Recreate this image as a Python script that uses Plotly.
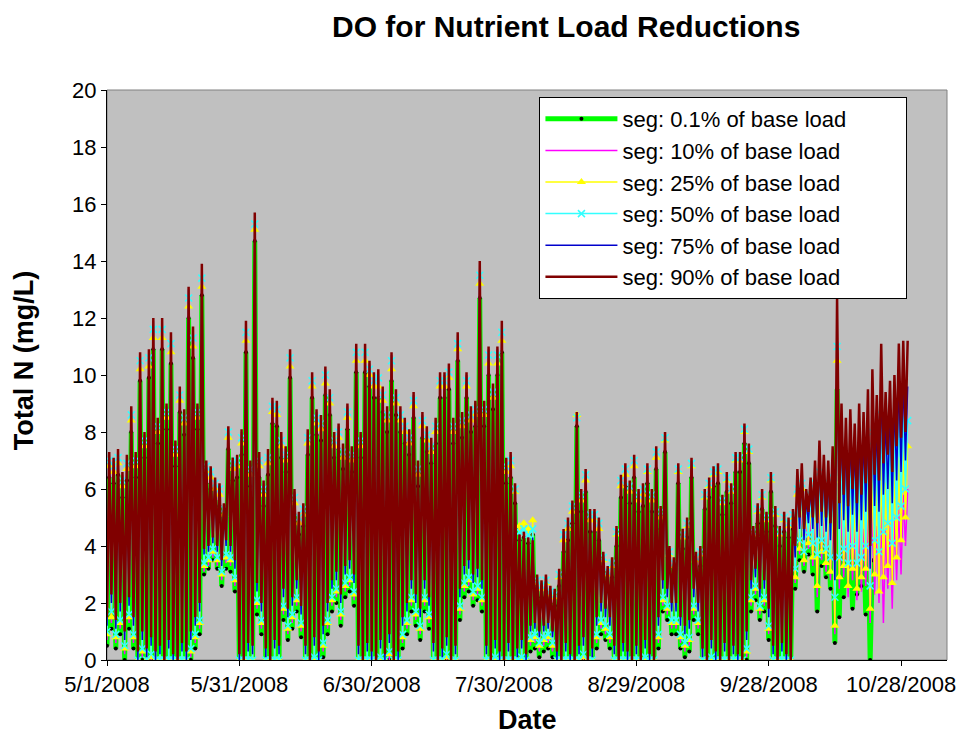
import plotly.graph_objects as go
from datetime import datetime, timedelta

# ---- data (daily trough / peak readings, day 0 = 5/1/2008) ----
x_tick_labels = ["5/1/2008", "5/31/2008", "6/30/2008", "7/30/2008", "8/29/2008", "9/28/2008", "10/28/2008"]
y_ticks = [0, 2, 4, 6, 8, 10, 12, 14, 16, 18, 20]

series_names = ["seg: 0.1% of base load", "seg: 10% of base load", "seg: 25% of base load",
                "seg: 50% of base load", "seg: 75% of base load", "seg: 90% of base load"]

peak_90 = [7.3, 7.1, 7.4, 6.6, 7.2, 8.9, 7.3, 10.8, 8.0, 10.9,
           12.0, 8.5, 12.0, 9.0, 11.5, 7.7, 9.6, 8.8, 13.1, 11.7,
           9.0, 13.9, 7.0, 6.8, 6.4, 6.2, 5.5, 8.2, 7.1, 7.2,
           8.1, 11.9, 7.0, 15.7, 7.3, 6.3, 7.4, 9.2, 9.1, 8.0,
           7.5, 10.9, 6.0, 5.2, 5.5, 8.1, 10.1, 8.8, 8.6, 10.3,
           9.5, 8.0, 8.3, 7.6, 9.0, 7.5, 11.1, 8.0, 11.1, 10.5,
           10.1, 10.2, 9.6, 8.9, 10.8, 9.5, 8.9, 8.5, 8.1, 9.4,
           7.0, 8.7, 8.2, 7.8, 8.5, 10.1, 10.1, 10.4, 8.5, 11.5,
           8.7, 10.1, 8.9, 9.1, 14.0, 9.1, 11.0, 9.7, 11.0, 11.9,
           7.1, 7.3, 6.2, 4.4, 4.5, 4.3, 4.2, 3.0, 2.8, 3.0,
           2.6, 2.5, 3.2, 4.6, 5.0, 5.6, 8.7, 6.0, 6.7, 5.3,
           5.3, 5.0, 3.8, 3.3, 3.6, 4.7, 6.5, 6.9, 6.3, 7.2,
           6.0, 6.2, 6.9, 6.0, 7.5, 5.4, 8.0, 4.0, 3.6, 6.9,
           4.6, 5.0, 7.1, 3.8, 4.0, 6.0, 6.4, 6.8, 6.9, 5.8,
           6.6, 6.2, 7.3, 7.3, 8.3, 7.6, 4.7, 5.5, 6.0, 5.2,
           6.6, 5.4, 4.7, 5.2, 5.0, 5.3, 6.7, 6.9, 6.0, 6.4,
           7.0, 7.7, 7.2, 7.0, 7.5, 12.7, 9.0, 8.5, 8.8, 8.3,
           9.0, 8.7, 9.5, 10.2, 9.3, 11.1, 9.4, 9.8, 10.0, 11.1,
           11.2, 11.2]
trough_90 = [1.5, 2.3, 1.4, 2.0, 1.0, 2.2, 1.5, 0.3, 1.0, 0.4,
             0.8, 0.3, 0.5, 0.0, 0.7, 0.2, 0.0, 0.6, 0.3, 1.0,
             1.5, 2.0, 3.9, 4.0, 4.3, 4.0, 3.5, 4.2, 4.0, 3.5,
             0.2, 0.0, 0.6, 0.5, 2.7, 2.0, 0.4, 0.0, 0.7, 0.5,
             2.5, 1.8, 2.2, 2.8, 1.9, 0.5, 0.0, 0.8, 0.3, 1.2,
             2.0, 2.8, 3.1, 2.3, 3.3, 3.5, 3.0, 0.5, 0.0, 0.6,
             0.3, 0.0, 0.7, 0.2, 0.9, 0.0, 0.3, 1.5, 2.0, 2.8,
             2.3, 1.8, 2.8, 2.2, 0.6, 0.0, 0.4, 0.8, 0.0, 0.5,
             2.5, 3.3, 3.5, 3.0, 3.2, 2.8, 0.5, 0.0, 0.7, 0.3,
             0.0, 0.6, 0.0, 0.4, 0.7, 0.2, 1.2, 1.3, 1.0, 1.2,
             1.3, 1.0, 0.3, 0.0, 0.6, 0.2, 0.0, 0.5, 0.8, 0.0,
             0.4, 1.5, 2.0, 1.8, 1.5, 0.5, 0.0, 0.6, 0.3, 0.0,
             0.5, 0.0, 0.7, 0.2, 0.0, 1.5, 2.8, 2.5, 2.0, 2.0,
             1.5, 1.2, 1.4, 2.5, 2.0, 0.4, 0.0, 0.7, 0.3, 0.0,
             0.6, 0.0, 0.5, 0.2, 0.0, 1.0, 2.8, 3.2, 2.5, 2.8,
             1.8, 0.5, 0.0, 0.6, 0.2, 0.0, 4.0, 5.0, 4.6, 5.2,
             5.0, 4.8, 5.2, 5.0, 4.8, 3.5, 5.5, 5.8, 5.4, 6.0,
             5.5, 5.8, 6.2, 4.0, 6.5, 6.3, 6.9, 7.2, 6.6, 7.5,
             7.8, 8.0]

peak_75 = [7.2, 7.0, 7.3, 6.5, 7.1, 8.8, 7.2, 10.7, 7.9, 10.8,
           11.9, 8.4, 11.9, 8.9, 11.4, 7.6, 9.5, 8.7, 13.0, 11.6,
           8.9, 13.8, 6.9, 6.7, 6.3, 6.1, 5.4, 8.1, 7.0, 7.1,
           8.0, 11.8, 6.9, 15.6, 7.2, 6.2, 7.3, 9.1, 9.0, 7.9,
           7.4, 10.8, 5.9, 5.1, 5.4, 8.0, 10.0, 8.7, 8.5, 10.2,
           9.4, 7.9, 8.2, 7.5, 8.9, 7.4, 11.0, 7.9, 11.0, 10.4,
           10.0, 10.1, 9.5, 8.8, 10.7, 9.4, 8.8, 8.4, 8.0, 9.3,
           6.9, 8.6, 8.1, 7.7, 8.4, 10.0, 10.0, 10.3, 8.4, 11.4,
           8.6, 10.0, 8.8, 9.0, 13.9, 9.0, 10.9, 9.6, 10.9, 11.8,
           7.0, 7.2, 6.1, 4.4, 4.5, 4.3, 4.3, 2.9, 2.7, 2.9,
           2.5, 2.4, 3.1, 4.5, 4.9, 5.5, 8.6, 5.9, 6.6, 5.2,
           5.2, 4.9, 3.7, 3.2, 3.5, 4.6, 6.4, 6.8, 6.2, 7.1,
           5.9, 6.1, 6.8, 5.9, 7.4, 5.3, 7.9, 3.9, 3.5, 6.8,
           4.5, 4.9, 7.0, 3.7, 3.9, 5.9, 6.3, 6.7, 6.8, 5.7,
           6.5, 6.1, 7.2, 7.2, 8.2, 7.5, 4.6, 5.4, 5.9, 5.1,
           6.5, 5.3, 4.6, 5.1, 4.9, 5.2, 6.4, 6.6, 5.7, 6.1,
           6.7, 7.3, 6.8, 6.6, 7.0, 11.8, 8.3, 7.8, 8.0, 7.6,
           8.2, 7.9, 8.6, 9.2, 8.4, 9.9, 8.5, 8.9, 9.1, 9.9,
           9.9, 9.6]
trough_75 = [1.2, 2.0, 1.1, 1.7, 0.7, 1.9, 1.2, 0.0, 0.7, 0.1,
             0.5, 0.0, 0.2, 0.0, 0.4, 0.0, 0.0, 0.3, 0.0, 0.7,
             1.2, 1.7, 3.7, 3.8, 4.1, 3.8, 3.3, 4.0, 3.8, 3.2,
             0.0, 0.0, 0.3, 0.2, 2.4, 1.7, 0.1, 0.0, 0.4, 0.2,
             2.2, 1.5, 1.9, 2.5, 1.6, 0.2, 0.0, 0.5, 0.0, 0.9,
             1.7, 2.5, 2.8, 2.0, 3.0, 3.2, 2.7, 0.2, 0.0, 0.3,
             0.0, 0.0, 0.4, 0.0, 0.6, 0.0, 0.0, 1.2, 1.7, 2.5,
             2.0, 1.5, 2.5, 1.9, 0.3, 0.0, 0.1, 0.5, 0.0, 0.2,
             2.2, 3.0, 3.2, 2.7, 2.9, 2.5, 0.2, 0.0, 0.4, 0.0,
             0.0, 0.3, 0.0, 0.1, 0.4, 0.0, 1.0, 1.1, 0.8, 1.0,
             1.1, 0.8, 0.0, 0.0, 0.3, 0.0, 0.0, 0.2, 0.5, 0.0,
             0.1, 1.2, 1.7, 1.5, 1.2, 0.2, 0.0, 0.3, 0.0, 0.0,
             0.2, 0.0, 0.4, 0.0, 0.0, 1.2, 2.5, 2.2, 1.7, 1.7,
             1.2, 0.9, 1.1, 2.2, 1.7, 0.1, 0.0, 0.4, 0.0, 0.0,
             0.3, 0.0, 0.2, 0.0, 0.0, 0.7, 2.5, 2.9, 2.2, 2.5,
             1.5, 0.2, 0.0, 0.3, 0.0, 0.0, 3.6, 4.6, 4.2, 4.8,
             4.6, 4.3, 4.7, 4.5, 4.2, 2.8, 4.6, 4.9, 4.5, 5.1,
             4.5, 4.9, 5.2, 3.2, 5.4, 5.2, 5.8, 6.0, 5.5, 6.3,
             6.6, 7.0]

peak_50 = [7.0, 6.8, 7.1, 6.3, 6.9, 8.6, 7.0, 10.5, 7.7, 10.6,
           11.6, 8.2, 11.6, 8.7, 11.1, 7.4, 9.3, 8.5, 12.7, 11.3,
           8.7, 13.4, 6.8, 6.6, 6.2, 6.0, 5.3, 8.0, 6.9, 7.0,
           7.8, 11.5, 6.7, 15.3, 7.0, 6.0, 7.1, 8.9, 8.8, 7.7,
           7.2, 10.6, 5.7, 5.0, 5.3, 7.8, 9.8, 8.5, 8.3, 10.0,
           9.2, 7.7, 8.0, 7.3, 8.7, 7.2, 10.8, 7.7, 10.8, 10.2,
           9.8, 9.9, 9.3, 8.6, 10.5, 9.2, 8.6, 8.2, 7.8, 9.1,
           6.7, 8.4, 7.9, 7.5, 8.2, 9.8, 9.8, 10.1, 8.2, 11.1,
           8.4, 9.8, 8.6, 8.8, 13.5, 8.8, 10.7, 9.4, 10.7, 11.5,
           6.8, 7.0, 6.0, 4.5, 4.6, 4.4, 4.6, 2.8, 2.6, 2.8,
           2.4, 2.3, 3.0, 4.4, 4.8, 5.4, 8.5, 5.8, 6.5, 5.1,
           5.1, 4.8, 3.6, 3.1, 3.4, 4.5, 6.3, 6.7, 6.1, 7.0,
           5.8, 6.0, 6.7, 5.8, 7.3, 5.2, 7.8, 3.8, 3.4, 6.7,
           4.4, 4.8, 6.9, 3.6, 3.8, 5.8, 6.2, 6.6, 6.7, 5.6,
           6.4, 6.0, 7.1, 7.1, 8.1, 7.4, 4.5, 5.3, 5.8, 5.0,
           6.4, 5.2, 4.5, 5.0, 4.8, 5.1, 6.0, 6.2, 5.4, 5.8,
           6.2, 6.6, 6.2, 6.0, 6.4, 11.0, 7.2, 6.8, 7.0, 6.6,
           7.2, 6.9, 7.5, 8.0, 7.4, 8.6, 7.5, 7.8, 8.0, 8.6,
           8.5, 8.4]
trough_50 = [1.0, 1.7, 0.9, 1.4, 0.5, 1.6, 0.9, 0.0, 0.4, 0.0,
             0.2, 0.0, 0.0, 0.0, 0.0, 0.0, 0.0, 0.0, 0.0, 0.4,
             0.9, 1.4, 3.4, 3.6, 3.9, 3.6, 3.1, 3.7, 3.6, 2.9,
             0.0, 0.0, 0.0, 0.0, 2.1, 1.4, 0.0, 0.0, 0.0, 0.0,
             1.9, 1.2, 1.6, 2.2, 1.3, 0.0, 0.0, 0.1, 0.0, 0.6,
             1.4, 2.2, 2.5, 1.7, 2.7, 2.9, 2.4, 0.0, 0.0, 0.0,
             0.0, 0.0, 0.1, 0.0, 0.3, 0.0, 0.0, 0.9, 1.4, 2.2,
             1.7, 1.2, 2.2, 1.6, 0.0, 0.0, 0.0, 0.2, 0.0, 0.0,
             1.9, 2.7, 2.9, 2.4, 2.6, 2.2, 0.0, 0.0, 0.1, 0.0,
             0.0, 0.0, 0.0, 0.0, 0.1, 0.0, 0.8, 0.9, 0.6, 0.8,
             0.9, 0.6, 0.0, 0.0, 0.0, 0.0, 0.0, 0.0, 0.2, 0.0,
             0.0, 0.9, 1.4, 1.2, 0.9, 0.0, 0.0, 0.0, 0.0, 0.0,
             0.0, 0.0, 0.1, 0.0, 0.0, 0.9, 2.2, 1.9, 1.4, 1.4,
             0.9, 0.6, 0.8, 1.9, 1.4, 0.0, 0.0, 0.1, 0.0, 0.0,
             0.0, 0.0, 0.0, 0.0, 0.0, 0.4, 2.2, 2.6, 1.9, 2.2,
             1.2, 0.0, 0.0, 0.0, 0.0, 0.0, 3.2, 4.2, 3.8, 4.4,
             4.1, 3.7, 4.2, 3.9, 3.6, 2.2, 3.6, 3.9, 3.4, 4.0,
             3.4, 3.6, 4.0, 2.6, 4.2, 3.8, 4.5, 4.8, 4.1, 5.0,
             5.4, 6.0]

peak_25 = [6.8, 6.6, 6.9, 6.1, 6.7, 8.4, 6.8, 10.2, 7.5, 10.3,
           11.3, 8.0, 11.3, 8.5, 10.8, 7.2, 9.1, 8.3, 12.4, 11.0,
           8.5, 13.1, 6.6, 6.4, 6.0, 5.8, 5.1, 7.8, 6.7, 6.8,
           7.6, 11.2, 6.5, 15.1, 6.8, 5.8, 6.9, 8.7, 8.6, 7.5,
           7.0, 10.3, 5.5, 4.8, 5.1, 7.6, 9.6, 8.3, 8.1, 9.7,
           9.0, 7.5, 7.8, 7.1, 8.5, 7.0, 10.5, 7.5, 10.5, 10.0,
           9.6, 9.6, 9.1, 8.4, 10.2, 9.0, 8.4, 8.0, 7.6, 8.9,
           6.5, 8.2, 7.7, 7.3, 8.0, 9.6, 9.6, 9.9, 8.0, 10.9,
           8.2, 9.6, 8.4, 8.6, 13.2, 8.6, 10.4, 9.2, 10.4, 11.2,
           6.6, 6.8, 5.9, 4.7, 4.8, 4.6, 4.9, 2.7, 2.5, 2.7,
           2.3, 2.2, 2.9, 4.2, 4.6, 5.2, 8.6, 5.6, 6.3, 4.9,
           4.9, 4.6, 3.5, 3.0, 3.3, 4.4, 6.1, 6.5, 5.9, 6.8,
           5.6, 5.8, 6.6, 5.6, 7.1, 5.0, 7.7, 3.7, 3.3, 6.6,
           4.3, 4.7, 6.8, 3.5, 3.7, 5.7, 6.1, 6.5, 6.6, 5.5,
           6.3, 5.9, 7.0, 7.0, 8.0, 7.3, 4.4, 5.2, 5.7, 4.9,
           6.3, 5.1, 4.4, 4.9, 4.7, 5.0, 5.8, 6.0, 5.2, 5.5,
           5.9, 6.2, 5.7, 5.5, 5.8, 10.5, 6.3, 5.7, 6.0, 5.5,
           6.1, 5.7, 6.2, 6.6, 6.0, 6.9, 6.1, 6.4, 6.6, 7.0,
           7.3, 7.5]
trough_25 = [0.9, 1.5, 0.8, 1.3, 0.4, 1.5, 0.8, 0.0, 0.3, 0.0,
             0.1, 0.0, 0.0, 0.0, 0.0, 0.0, 0.0, 0.0, 0.0, 0.3,
             0.8, 1.3, 3.3, 3.5, 3.8, 3.5, 3.0, 3.6, 3.5, 2.8,
             0.0, 0.0, 0.0, 0.0, 2.0, 1.3, 0.0, 0.0, 0.0, 0.0,
             1.8, 1.1, 1.5, 2.1, 1.2, 0.0, 0.0, 0.0, 0.0, 0.5,
             1.3, 2.1, 2.4, 1.6, 2.6, 2.8, 2.3, 0.0, 0.0, 0.0,
             0.0, 0.0, 0.0, 0.0, 0.2, 0.0, 0.0, 0.8, 1.3, 2.1,
             1.6, 1.1, 2.1, 1.5, 0.0, 0.0, 0.0, 0.1, 0.0, 0.0,
             1.8, 2.6, 2.8, 2.3, 2.5, 2.1, 0.0, 0.0, 0.0, 0.0,
             0.0, 0.0, 0.0, 0.0, 0.0, 0.0, 0.7, 0.8, 0.5, 0.7,
             0.8, 0.5, 0.0, 0.0, 0.0, 0.0, 0.0, 0.0, 0.1, 0.0,
             0.0, 0.8, 1.3, 1.1, 0.8, 0.0, 0.0, 0.0, 0.0, 0.0,
             0.0, 0.0, 0.0, 0.0, 0.0, 0.8, 2.1, 1.8, 1.3, 1.3,
             0.8, 0.5, 0.7, 1.8, 1.3, 0.0, 0.0, 0.0, 0.0, 0.0,
             0.0, 0.0, 0.0, 0.0, 0.0, 0.3, 2.1, 2.5, 1.8, 2.1,
             1.1, 0.0, 0.0, 0.0, 0.0, 0.0, 2.9, 3.9, 3.5, 4.1,
             3.6, 2.6, 3.8, 3.4, 3.1, 1.2, 2.9, 3.3, 2.6, 3.2,
             2.5, 2.9, 3.2, 1.8, 3.0, 2.4, 2.9, 3.3, 2.7, 3.6,
             4.2, 5.0]

peak_10 = [6.7, 6.5, 6.8, 6.0, 6.6, 8.3, 6.7, 10.1, 7.4, 10.2,
           11.2, 7.9, 11.2, 8.4, 10.7, 7.1, 9.0, 8.2, 12.3, 10.9,
           8.4, 13.0, 6.5, 6.3, 5.9, 5.7, 5.0, 7.7, 6.6, 6.7,
           7.5, 11.1, 6.4, 15.0, 6.7, 5.7, 6.8, 8.6, 8.5, 7.4,
           6.9, 10.2, 5.4, 4.7, 5.0, 7.5, 9.5, 8.2, 8.0, 9.6,
           8.9, 7.4, 7.7, 7.0, 8.4, 6.9, 10.4, 7.4, 10.4, 9.9,
           9.5, 9.5, 9.0, 8.3, 10.1, 8.9, 8.3, 7.9, 7.5, 8.8,
           6.4, 8.1, 7.6, 7.2, 7.9, 9.5, 9.5, 9.8, 7.9, 10.8,
           8.1, 9.5, 8.3, 8.5, 13.1, 8.5, 10.3, 9.1, 10.3, 11.1,
           6.5, 6.7, 5.8, 4.3, 4.4, 4.2, 4.5, 2.6, 2.4, 2.6,
           2.2, 2.1, 2.8, 4.1, 4.5, 5.1, 8.4, 5.5, 6.2, 4.8,
           4.8, 4.5, 3.4, 2.9, 3.2, 4.3, 6.0, 6.4, 5.8, 6.7,
           5.5, 5.7, 6.5, 5.5, 7.0, 4.9, 7.6, 3.6, 3.2, 6.5,
           4.2, 4.6, 6.7, 3.4, 3.6, 5.6, 6.0, 6.4, 6.5, 5.4,
           6.2, 5.8, 6.9, 6.9, 7.9, 7.2, 4.3, 5.1, 5.6, 4.8,
           6.2, 5.0, 4.3, 4.8, 4.6, 4.9, 5.4, 5.6, 4.8, 5.1,
           5.4, 5.7, 5.2, 5.0, 5.3, 9.8, 5.4, 4.8, 5.0, 4.6,
           5.0, 4.6, 5.0, 5.3, 4.7, 5.4, 4.6, 4.8, 5.0, 5.4,
           5.8, 6.0]
trough_10 = [0.7, 1.3, 0.6, 1.1, 0.2, 1.3, 0.6, 0.0, 0.1, 0.0,
             0.0, 0.0, 0.0, 0.0, 0.0, 0.0, 0.0, 0.0, 0.0, 0.1,
             0.6, 1.1, 3.1, 3.3, 3.6, 3.3, 2.8, 3.4, 3.3, 2.6,
             0.0, 0.0, 0.0, 0.0, 1.8, 1.1, 0.0, 0.0, 0.0, 0.0,
             1.6, 0.9, 1.3, 1.9, 1.0, 0.0, 0.0, 0.0, 0.0, 0.3,
             1.1, 1.9, 2.2, 1.4, 2.4, 2.6, 2.1, 0.0, 0.0, 0.0,
             0.0, 0.0, 0.0, 0.0, 0.0, 0.0, 0.0, 0.6, 1.1, 1.9,
             1.4, 0.9, 1.9, 1.3, 0.0, 0.0, 0.0, 0.0, 0.0, 0.0,
             1.6, 2.4, 2.6, 2.1, 2.3, 1.9, 0.0, 0.0, 0.0, 0.0,
             0.0, 0.0, 0.0, 0.0, 0.0, 0.0, 0.5, 0.6, 0.3, 0.5,
             0.6, 0.3, 0.0, 0.0, 0.0, 0.0, 0.0, 0.0, 0.0, 0.0,
             0.0, 0.6, 1.1, 0.9, 0.6, 0.0, 0.0, 0.0, 0.0, 0.0,
             0.0, 0.0, 0.0, 0.0, 0.0, 0.6, 1.9, 1.6, 1.1, 1.1,
             0.6, 0.3, 0.5, 1.6, 1.1, 0.0, 0.0, 0.0, 0.0, 0.0,
             0.0, 0.0, 0.0, 0.0, 0.0, 0.1, 1.9, 2.3, 1.6, 1.9,
             0.9, 0.0, 0.0, 0.0, 0.0, 0.0, 2.7, 3.7, 3.3, 3.9,
             3.3, 2.2, 3.5, 3.1, 2.8, 0.9, 2.5, 2.9, 2.2, 2.8,
             2.1, 2.4, 2.6, 1.3, 2.3, 2.0, 1.3, 2.5, 1.8, 2.8,
             3.0, 4.0]

peak_01 = [6.4, 6.2, 6.5, 5.7, 6.3, 8.0, 6.4, 9.8, 7.1, 9.9,
           10.9, 7.6, 10.9, 8.1, 10.4, 6.8, 8.7, 7.9, 12.0, 10.6,
           8.1, 12.8, 6.2, 6.0, 5.6, 5.4, 4.7, 7.4, 6.3, 6.4,
           7.2, 10.8, 6.1, 14.7, 6.4, 5.4, 6.5, 8.3, 8.2, 7.1,
           6.6, 9.9, 5.1, 4.4, 4.7, 7.2, 9.2, 7.9, 7.7, 9.3,
           8.6, 7.1, 7.4, 6.7, 8.1, 6.6, 10.1, 7.1, 10.1, 9.6,
           9.2, 9.2, 8.7, 8.0, 9.8, 8.6, 8.0, 7.6, 7.2, 8.5,
           6.1, 7.8, 7.3, 6.9, 7.6, 9.2, 9.2, 9.5, 7.6, 10.5,
           7.8, 9.2, 8.0, 8.2, 12.7, 8.2, 10.0, 8.8, 10.0, 10.8,
           6.2, 6.4, 5.5, 4.2, 4.3, 4.1, 4.4, 2.4, 2.2, 2.4,
           2.0, 1.9, 2.6, 3.8, 4.2, 4.8, 8.2, 5.2, 5.9, 4.5,
           4.5, 4.2, 3.1, 2.6, 2.9, 4.0, 5.7, 6.1, 5.5, 6.4,
           5.2, 5.4, 6.2, 5.2, 6.7, 4.6, 7.3, 3.3, 2.9, 6.2,
           3.9, 4.3, 6.4, 3.1, 3.3, 5.3, 5.7, 6.1, 6.2, 5.1,
           5.9, 5.5, 6.6, 6.6, 7.6, 6.9, 4.0, 4.8, 5.3, 4.5,
           5.9, 4.7, 4.0, 4.5, 4.3, 4.6, 5.2, 5.4, 4.6, 4.9,
           5.2, 5.5, 5.0, 4.8, 5.1, 9.5, 4.8, 4.5, 4.6, 4.2,
           4.5, 4.3, 4.6, 3.5]
trough_01 = [0.5, 1.1, 0.4, 0.9, 0.0, 1.1, 0.4, 0.0, 0.0, 0.0,
             0.0, 0.0, 0.0, 0.0, 0.0, 0.0, 0.0, 0.0, 0.0, 0.0,
             0.4, 0.9, 3.0, 3.2, 3.5, 3.2, 2.6, 3.2, 3.1, 2.4,
             0.0, 0.0, 0.0, 0.0, 1.6, 0.9, 0.0, 0.0, 0.0, 0.0,
             1.4, 0.7, 1.1, 1.7, 0.8, 0.0, 0.0, 0.0, 0.0, 0.1,
             0.9, 1.7, 2.0, 1.2, 2.2, 2.4, 1.9, 0.0, 0.0, 0.0,
             0.0, 0.0, 0.0, 0.0, 0.0, 0.0, 0.0, 0.4, 0.9, 1.7,
             1.2, 0.7, 1.7, 1.1, 0.0, 0.0, 0.0, 0.0, 0.0, 0.0,
             1.4, 2.2, 2.4, 1.9, 2.1, 1.7, 0.0, 0.0, 0.0, 0.0,
             0.0, 0.0, 0.0, 0.0, 0.0, 0.0, 0.3, 0.4, 0.1, 0.3,
             0.4, 0.1, 0.0, 0.0, 0.0, 0.0, 0.0, 0.0, 0.0, 0.0,
             0.0, 0.4, 0.9, 0.7, 0.4, 0.0, 0.0, 0.0, 0.0, 0.0,
             0.0, 0.0, 0.0, 0.0, 0.0, 0.4, 1.7, 1.4, 0.9, 0.9,
             0.4, 0.1, 0.3, 1.4, 0.9, 0.0, 0.0, 0.0, 0.0, 0.0,
             0.0, 0.0, 0.0, 0.0, 0.0, 0.0, 1.7, 2.1, 1.4, 1.7,
             0.7, 0.0, 0.0, 0.0, 0.0, 0.0, 2.5, 3.5, 3.1, 3.7,
             3.0, 1.7, 3.3, 2.9, 2.5, 0.6, 1.5, 2.2, 2.6, 1.8,
             2.3, 2.6, 1.6, 0.0]

START = datetime(2008, 5, 1)


def build(troughs, peaks):
    xs, ys = [], []
    for d, (t, p) in enumerate(zip(troughs, peaks)):
        xs.append(START + timedelta(days=d))
        ys.append(t)
        xs.append(START + timedelta(days=d, hours=12))
        ys.append(p)
    return xs, ys


series = [
    (trough_01, peak_01, dict(color="#00FF00", width=5),
     dict(symbol="circle", size=4, color="#000000")),
    (trough_10, peak_10, dict(color="#FF00FF", width=1.5), None),
    (trough_25, peak_25, dict(color="#FFFF00", width=1.5),
     dict(symbol="triangle-up", size=8, color="#FFFF00")),
    (trough_50, peak_50, dict(color="#33FFFF", width=1.5),
     dict(symbol="x-thin-open", size=7, color="#33FFFF", line=dict(color="#33FFFF", width=1.5))),
    (trough_75, peak_75, dict(color="#0000CC", width=1.5), None),
    (trough_90, peak_90, dict(color="#800000", width=2.5), None),
]

PAD = "\u00a0" * 9
fig = go.Figure()
for i, (tr, pk, ln, mk) in enumerate(series):
    xs, ys = build(tr, pk)
    kw = dict(x=xs, y=ys, name=series_names[i] + PAD, line=ln,
              mode="lines+markers" if mk else "lines")
    if mk:
        kw["marker"] = mk
    fig.add_trace(go.Scatter(**kw))

tick_dates = [datetime.strptime(s, "%m/%d/%Y") for s in x_tick_labels]

FONT = "Liberation Sans, Arial, sans-serif"
fig.update_layout(
    width=960, height=730,
    paper_bgcolor="white", plot_bgcolor="#C0C0C0",
    margin=dict(l=99, r=18, t=82, b=78),
    font=dict(family=FONT, color="black", size=22),
    showlegend=True,
    legend=dict(x=0.5148, y=0.9877, xanchor="left", yanchor="top",
                bgcolor="white", bordercolor="black", borderwidth=1,
                font=dict(family=FONT, size=22, color="black"),
                itemwidth=72, traceorder="normal"),
    xaxis=dict(type="date", range=[datetime(2008, 5, 1), datetime(2008, 11, 7, 10)],
               tickvals=tick_dates, ticktext=x_tick_labels,
               showline=True, linecolor="black", linewidth=1,
               ticks="outside", ticklen=5, tickcolor="black",
               showgrid=False, zeroline=False,
               tickfont=dict(family=FONT, size=22, color="black")),
    yaxis=dict(range=[0, 20], tickvals=y_ticks,
               showline=True, linecolor="black", linewidth=1,
               ticks="outside", ticklen=5, tickcolor="black",
               showgrid=False, zeroline=False,
               tickfont=dict(family=FONT, size=22, color="black")),
    shapes=[dict(type="rect", xref="paper", yref="paper", x0=0, y0=0, x1=1, y1=1,
                 line=dict(color="#808080", width=1), layer="below")],
    annotations=[
        dict(text="<b>DO for Nutrient Load Reductions</b>", xref="paper", yref="paper",
             x=0.547, y=1.1439, xanchor="center", yanchor="top", showarrow=False,
             font=dict(family=FONT, size=30, color="black")),
        dict(text="<b>Total N (mg/L)</b>", xref="paper", yref="paper",
             x=-0.0985, y=0.5246, xanchor="center", yanchor="middle", showarrow=False,
             textangle=-90, font=dict(family=FONT, size=27, color="black")),
        dict(text="<b>Date</b>", xref="paper", yref="paper",
             x=0.5006, y=-0.105, xanchor="center", yanchor="middle", showarrow=False,
             font=dict(family=FONT, size=27, color="black")),
    ],
)

fig.write_html("out.html")
